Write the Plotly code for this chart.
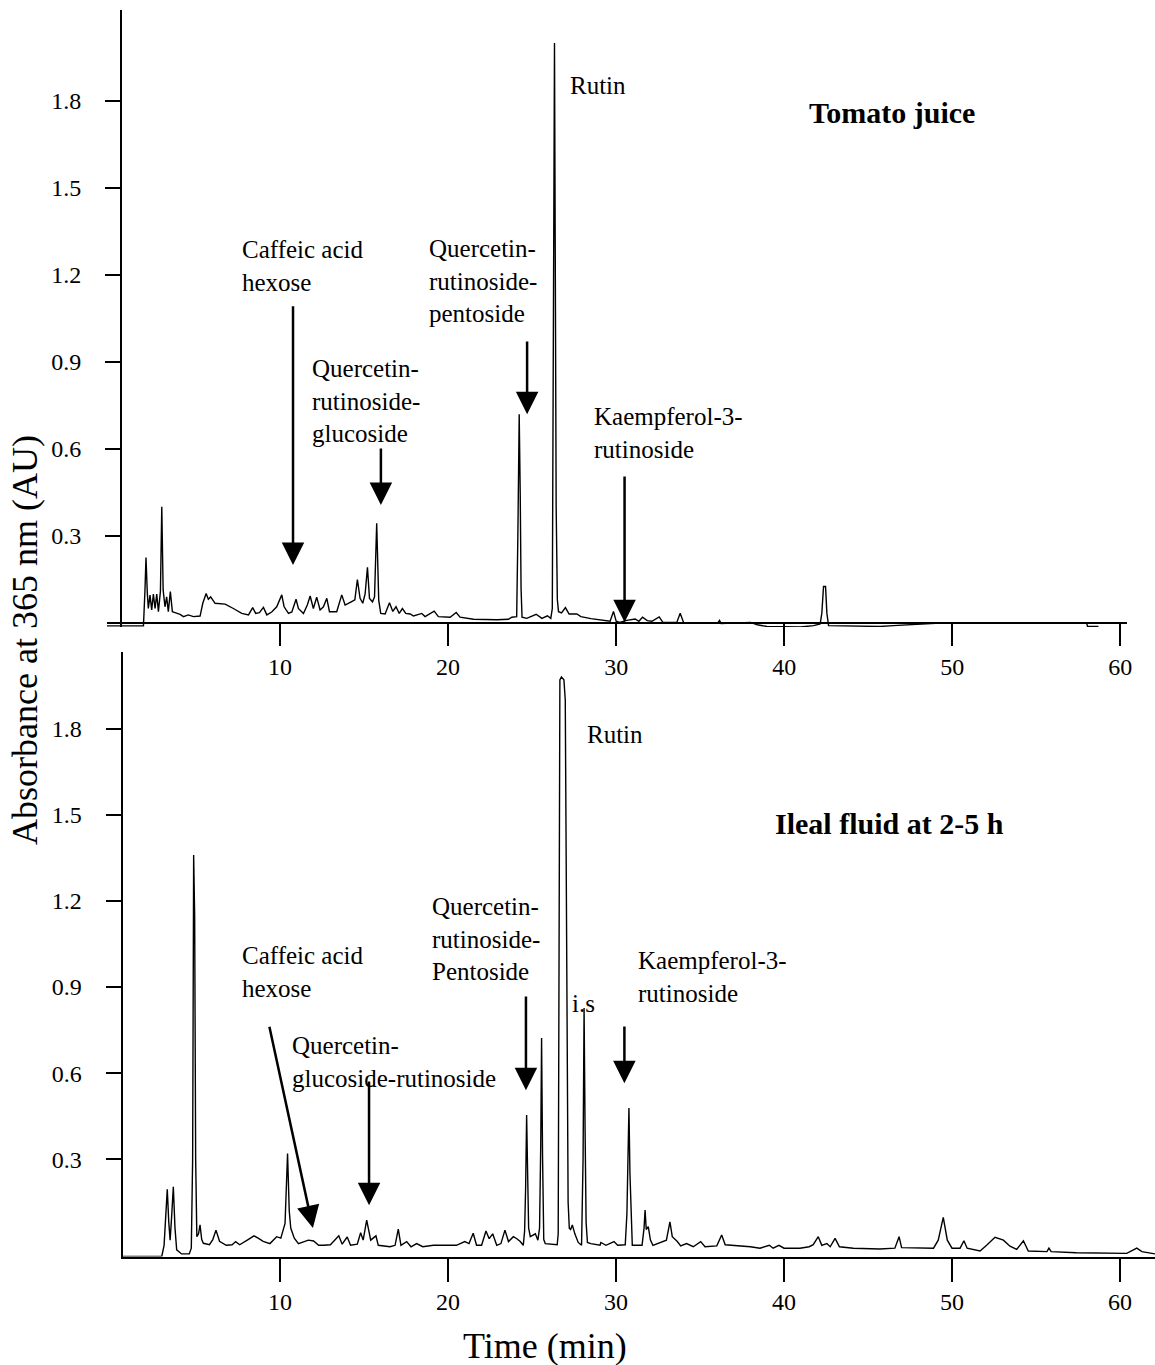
import plotly.graph_objects as go

# ---------------- data ----------------
top_time = [-0.32, 1.87, 1.96, 2.02, 2.10, 2.16, 2.26, 2.36, 2.46, 2.56, 2.66, 2.76, 2.88, 2.96, 3.04,
            3.15, 3.25, 3.35, 3.47, 3.59, 3.75, 4.05, 4.25, 4.54, 4.84, 5.24, 5.40, 5.60, 5.73, 5.87,
            6.13, 6.73, 7.22, 7.72, 8.12, 8.37, 8.55, 8.77, 9.01, 9.21, 9.50, 9.80, 10.10, 10.24,
            10.50, 10.70, 10.95, 11.09, 11.39, 11.62, 11.79, 11.98, 12.18, 12.38, 12.58, 12.78,
            12.94, 13.37, 13.67, 13.87, 14.26, 14.45, 14.60, 14.76, 14.92, 15.06, 15.20, 15.32,
            15.50, 15.62, 15.75, 15.87, 15.99, 16.25, 16.51, 16.71, 16.90, 17.09, 17.28, 17.48,
            17.74, 17.94, 18.43, 18.63, 19.17, 19.42, 20.12, 20.48, 20.71, 21.51, 22.90, 23.59,
            23.79, 24.08, 24.15, 24.23, 24.29, 24.34, 24.40, 24.68, 25.24, 25.58, 25.91, 26.11,
            26.20, 26.27, 26.33, 26.38, 26.43, 26.50, 26.57, 26.75, 26.98, 27.20, 27.66, 27.90,
            28.50, 29.64, 29.84, 30.00, 30.20, 30.63, 31.13, 31.35, 31.57, 31.85, 32.13, 32.56,
            32.78, 33.61, 33.81, 34.01, 35.00, 36.05, 36.15, 36.25, 38.00, 38.40, 38.97, 40.95,
            41.75, 42.14, 42.24, 42.34, 42.46, 42.54, 42.64, 45.71, 46.50, 47.50, 48.30, 49.30,
            58.00, 58.05, 58.70]
top_abs = [-0.010, -0.010, 0.114, 0.226, 0.102, 0.050, 0.096, 0.045, 0.100, 0.050, 0.100, 0.039, 0.110, 0.401, 0.114,
           0.056, 0.090, 0.039, 0.108, 0.039, 0.036, 0.030, 0.022, 0.028, 0.022, 0.024, 0.068, 0.102, 0.082, 0.090,
           0.068, 0.065, 0.050, 0.033, 0.028, 0.053, 0.033, 0.036, 0.054, 0.028, 0.038, 0.056, 0.097, 0.056,
           0.033, 0.038, 0.082, 0.050, 0.033, 0.062, 0.093, 0.050, 0.089, 0.045, 0.056, 0.085,
           0.039, 0.039, 0.097, 0.062, 0.074, 0.080, 0.150, 0.085, 0.068, 0.100, 0.192, 0.085,
           0.073, 0.090, 0.344, 0.079, 0.033, 0.031, 0.070, 0.040, 0.056, 0.033, 0.050, 0.033,
           0.031, 0.024, 0.033, 0.022, 0.041, 0.022, 0.020, 0.036, 0.020, 0.013, 0.011, 0.013,
           0.020, 0.022, 0.300, 0.720, 0.450, 0.120, 0.020, 0.016, 0.030, 0.016, 0.025, 0.016,
           0.050, 0.900, 2.000, 1.200, 0.400, 0.080, 0.039, 0.035, 0.053, 0.031, 0.031, 0.022,
           0.015, 0.006, 0.040, 0.006, 0.002, 0.009, 0.014, 0.006, 0.020, 0.008, 0.006, 0.021,
           0.002, 0.002, 0.034, 0.002, 0.000, 0.000, 0.009, -0.002, 0.002, -0.006, -0.012, -0.014,
           -0.009, -0.003, 0.034, 0.126, 0.126, 0.034, -0.009, -0.012, -0.009, -0.005, -0.003, 0.000,
           0.000, -0.012, -0.012]

bottom_time = [0.63, 2.96, 3.10, 3.20, 3.29, 3.38, 3.46, 3.55, 3.65, 3.75, 3.85, 4.14, 4.60, 4.72, 4.80,
               4.86, 4.92, 4.98, 5.05, 5.15, 5.24, 5.34, 5.44, 5.80, 6.00, 6.19, 6.40, 6.80, 7.15, 7.36,
               7.60, 8.10, 8.45, 8.70, 9.00, 9.40, 9.80, 10.05, 10.30, 10.45, 10.55, 10.64, 10.85,
               11.10, 11.69, 12.00, 12.30, 12.60, 13.00, 13.50, 13.70, 14.00, 14.20, 14.60, 14.80,
               14.95, 15.16, 15.40, 15.71, 15.85, 16.55, 16.85, 17.04, 17.20, 17.54, 17.80, 18.13,
               18.50, 19.13, 20.50, 21.00, 21.25, 21.50, 21.70, 22.00, 22.26, 22.45, 22.66, 22.90,
               23.15, 23.39, 23.60, 23.89, 24.10, 24.30, 24.48, 24.56, 24.62, 24.68, 24.74, 24.80,
               24.90, 25.20, 25.35, 25.45, 25.52, 25.57, 25.63, 25.70, 25.79, 26.50, 26.56, 26.62,
               26.66, 26.75, 26.90, 26.98, 27.02, 27.08, 27.15, 27.22, 27.30, 27.40, 27.55, 27.75,
               27.95, 28.04, 28.10, 28.16, 28.22, 28.30, 28.50, 29.05, 29.10, 29.40, 29.88, 30.10,
               30.55, 30.65, 30.72, 30.77, 30.83, 30.90, 30.97, 31.55, 31.67, 31.73, 31.80, 31.92,
               32.05, 32.20, 33.00, 33.21, 33.35, 33.65, 33.85, 34.20, 34.60, 35.04, 35.30, 36.00,
               36.29, 36.50, 36.98, 38.00, 38.57, 39.13, 39.35, 39.70, 40.00, 40.95, 41.50, 41.74,
               42.04, 42.25, 42.55, 42.75, 43.04, 43.30, 44.13, 45.70, 46.60, 46.85, 47.00, 48.30,
               48.90, 49.18, 49.48, 49.72, 50.00, 50.48, 50.71, 50.90, 51.67, 52.06, 52.56, 53.06,
               53.45, 53.85, 54.25, 54.54, 55.65, 55.77, 55.90, 57.40, 60.40, 61.00, 61.30, 62.08]
bottom_abs = [-0.039, -0.039, 0.000, 0.100, 0.195, 0.080, 0.018, 0.100, 0.204, 0.060, -0.016, -0.030, -0.030, -0.010, 0.300,
              1.360, 1.150, 0.300, 0.030, 0.040, 0.071, 0.020, 0.007, 0.002, 0.020, 0.053, 0.014, 0.000, 0.002, 0.013,
              0.002, 0.020, 0.033, 0.025, 0.014, 0.006, 0.030, 0.025, 0.076, 0.320, 0.120, 0.060, 0.025,
              0.006, 0.018, 0.015, 0.000, 0.000, 0.002, 0.033, 0.004, 0.029, 0.000, 0.004, 0.044,
              0.018, 0.088, 0.018, 0.033, 0.000, -0.005, 0.000, 0.056, 0.000, 0.013, -0.005, 0.006,
              -0.005, 0.000, 0.000, 0.013, 0.006, 0.042, 0.000, 0.000, 0.050, 0.023, 0.040, 0.000,
              0.006, 0.053, 0.013, 0.030, 0.023, 0.013, 0.000, 0.050, 0.200, 0.454, 0.250, 0.060,
              0.030, 0.040, 0.018, 0.060, 0.350, 0.722, 0.300, 0.020, 0.006, 0.002, 0.040, 1.200,
              1.970, 1.980, 1.970, 1.900, 1.400, 0.500, 0.150, 0.060, 0.055, 0.071, 0.040, 0.010,
              0.000, 0.300, 0.827, 0.400, 0.080, 0.010, 0.006, 0.000, 0.010, 0.000, 0.013, 0.000,
              0.002, 0.110, 0.300, 0.478, 0.250, 0.080, 0.000, 0.000, 0.060, 0.123, 0.055, 0.065,
              0.018, 0.000, 0.018, 0.082, 0.030, 0.013, -0.002, 0.006, -0.005, 0.013, -0.005, -0.002,
              0.036, 0.002, 0.000, -0.005, -0.010, 0.000, -0.010, 0.000, -0.010, -0.010, -0.005, 0.002,
              0.030, 0.000, 0.006, -0.005, 0.024, -0.005, -0.010, -0.013, -0.010, 0.030, -0.008, -0.010,
              -0.010, 0.018, 0.097, 0.018, -0.010, -0.010, 0.016, -0.010, -0.020, 0.000, 0.028, 0.018,
              -0.003, -0.014, 0.016, -0.020, -0.022, -0.010, -0.022, -0.026, -0.028, -0.010, -0.022, -0.030]

x_tick_vals = [10, 20, 30, 40, 50, 60]
y_tick_vals = [0.3, 0.6, 0.9, 1.2, 1.5, 1.8]
y_tick_text = ["0.3", "0.6", "0.9", "1.2", "1.5", "1.8"]

# compound labels: text, left time, centre absorbance
top_labels = ["Rutin", "Caffeic acid<br>hexose", "Quercetin-<br>rutinoside-<br>glucoside",
              "Quercetin-<br>rutinoside-<br>pentoside", "Kaempferol-3-<br>rutinoside"]
top_label_time = [27.14, 7.62, 11.79, 18.75, 28.57]
top_label_abs = [1.855, 1.231, 0.766, 1.179, 0.655]

bottom_labels = ["Rutin", "Caffeic acid<br>hexose", "Quercetin-<br>glucoside-rutinoside",
                 "Quercetin-<br>rutinoside-<br>Pentoside", "i.s", "Kaempferol-3-<br>rutinoside"]
bottom_label_time = [28.15, 7.62, 10.6, 18.93, 27.26, 31.19]
bottom_label_abs = [1.781, 0.952, 0.639, 1.067, 0.844, 0.934]

# arrows: tail (time, abs) -> tip (time, abs)
top_arrow_tail_time = [10.77, 16.0, 24.7, 30.5]
top_arrow_tail_abs = [1.097, 0.607, 0.976, 0.51]
top_arrow_tip_time = [10.77, 16.0, 24.7, 30.5]
top_arrow_tip_abs = [0.20, 0.407, 0.72, 0.003]

bottom_arrow_tail_time = [9.35, 15.3, 24.64, 30.5]
bottom_arrow_tail_abs = [0.767, 0.576, 0.872, 0.768]
bottom_arrow_tip_time = [11.96, 15.3, 24.64, 30.5]
bottom_arrow_tip_abs = [0.06, 0.14, 0.54, 0.565]

panel_titles = ["Tomato juice", "Ileal fluid at 2-5 h"]
panel_title_time = [46.4, 46.3]
panel_title_abs = [1.762, 1.471]

# ---------------- figure ----------------
W, H = 1155, 1365
FONT = "Liberation Serif"

def px_x(p):
    return p / W

def px_y(p):
    return 1 - p / H

fig = go.Figure()
fig.add_trace(go.Scatter(x=top_time, y=top_abs, mode="lines",
                         line=dict(color="black", width=1.4), xaxis="x", yaxis="y",
                         showlegend=False, hoverinfo="skip"))
fig.add_trace(go.Scatter(x=bottom_time, y=bottom_abs, mode="lines",
                         line=dict(color="black", width=1.4), xaxis="x2", yaxis="y2",
                         showlegend=False, hoverinfo="skip"))

axis_common = dict(showgrid=False, zeroline=False, showline=True, linecolor="black",
                   linewidth=2, ticks="outside", tickcolor="black", tickwidth=2,
                   tickfont=dict(family=FONT, size=24, color="black"), automargin=False)

fig.update_layout(
    width=W, height=H,
    margin=dict(l=0, r=0, t=0, b=0),
    paper_bgcolor="white", plot_bgcolor="white",
    font=dict(family=FONT, color="black"),
    xaxis=dict(axis_common, domain=[px_x(107), px_x(1127)], range=[-0.3, 60.4],
               tickvals=x_tick_vals, ticklen=22, anchor="free", position=px_y(623)),
    yaxis=dict(axis_common, domain=[px_y(627), px_y(10)], range=[-4 / 290, 613 / 290],
               tickvals=y_tick_vals, ticktext=y_tick_text, ticklen=15, ticklabelstandoff=19,
               anchor="free", position=px_x(121)),
    xaxis2=dict(axis_common, domain=[px_x(122.5), 1.0], range=[0.625, 62.083],
                tickvals=x_tick_vals, ticklen=23, anchor="y2"),
    yaxis2=dict(axis_common, domain=[px_y(1256.5), px_y(652)], range=[-0.039, 2.0672],
                tickvals=y_tick_vals, ticktext=y_tick_text, ticklen=15, ticklabelstandoff=19,
                anchor="x2"),
)

ann = []
lab_font = dict(family=FONT, size=25, color="black")
for t, xx, yy in zip(top_labels, top_label_time, top_label_abs):
    ann.append(dict(text=t, x=xx, y=yy, xref="x", yref="y", xanchor="left", yanchor="middle",
                    align="left", showarrow=False, font=lab_font))
for t, xx, yy in zip(bottom_labels, bottom_label_time, bottom_label_abs):
    ann.append(dict(text=t, x=xx, y=yy, xref="x2", yref="y2", xanchor="left", yanchor="middle",
                    align="left", showarrow=False, font=lab_font))
for xt, yt, xh, yh in zip(top_arrow_tail_time, top_arrow_tail_abs, top_arrow_tip_time, top_arrow_tip_abs):
    ann.append(dict(text="", x=xh, y=yh, ax=xt, ay=yt, xref="x", yref="y", axref="x", ayref="y",
                    showarrow=True, arrowhead=2, arrowwidth=2.5, arrowsize=1.8, arrowcolor="black",
                    standoff=0))
for xt, yt, xh, yh in zip(bottom_arrow_tail_time, bottom_arrow_tail_abs, bottom_arrow_tip_time, bottom_arrow_tip_abs):
    ann.append(dict(text="", x=xh, y=yh, ax=xt, ay=yt, xref="x2", yref="y2", axref="x2", ayref="y2",
                    showarrow=True, arrowhead=2, arrowwidth=2.5, arrowsize=1.8, arrowcolor="black",
                    standoff=0))
for i, (t, xx, yy) in enumerate(zip(panel_titles, panel_title_time, panel_title_abs)):
    ann.append(dict(text="<b>" + t + "</b>", x=xx, y=yy, xref="x" if i == 0 else "x2",
                    yref="y" if i == 0 else "y2", xanchor="center", yanchor="middle",
                    showarrow=False, font=dict(family=FONT, size=30, color="black")))
ann.append(dict(text="Absorbance at 365 nm (AU)", textangle=-90, x=px_x(25), y=px_y(640),
                xref="paper", yref="paper", xanchor="center", yanchor="middle", showarrow=False,
                font=dict(family=FONT, size=36, color="black")))
ann.append(dict(text="Time (min)", x=px_x(545), y=px_y(1346), xref="paper", yref="paper",
                xanchor="center", yanchor="middle", showarrow=False,
                font=dict(family=FONT, size=36, color="black")))
fig.update_layout(annotations=ann)

# remove the browser's default 8px body margin so the figure sits at the page origin
fig.write_html("out.html", config={"displayModeBar": False},
               post_script="document.body.style.margin='0';")
